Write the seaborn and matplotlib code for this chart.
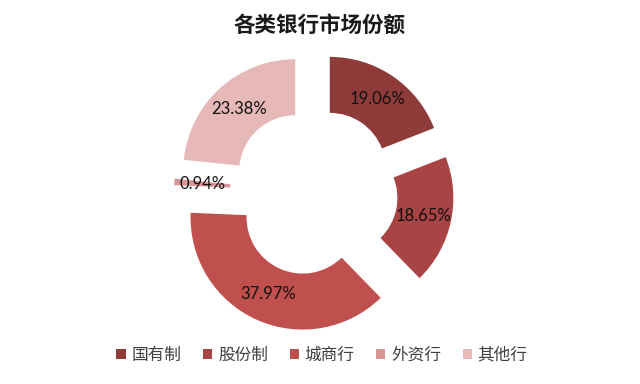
import matplotlib
matplotlib.use("Agg")
import matplotlib.pyplot as plt
import seaborn as sns

sns.set_theme(style="white")
plt.rcParams["font.family"] = ["Lato", "Noto Sans CJK SC", "DejaVu Sans"]

# data
bank_types = ["国有制", "股份制", "城商行", "外资行", "其他行"]
shares = [19.06, 18.65, 37.97, 0.94, 23.38]
colors = sns.color_palette(["#8E3B3A", "#A84443", "#C0504D", "#D99694", "#E6B9B8"])

fig = plt.figure(figsize=(6.4, 3.84), dpi=100)
ax = fig.add_axes([146 / 640, 24 / 384, 336 / 640, 336 / 384])

wedges, texts, autotexts = ax.pie(
    shares,
    colors=colors,
    startangle=90,
    counterclock=False,
    explode=[0.25] * len(shares),
    autopct="%.2f%%",
    pctdistance=0.75,
    wedgeprops=dict(width=0.5, edgecolor="none"),
    textprops=dict(fontsize=12, color="#111111"),
)
ax.set_xlim(-1.5, 1.5)
ax.set_ylim(-1.5, 1.5)
ax.set_aspect("equal")
ax.axis("off")

fig.suptitle("各类银行市场份额", x=319 / 640, y=1 - 26 / 384, va="center",
             fontsize=15.5, fontweight="bold", color="#1a1a1a",
             family=["Noto Sans CJK SC", "DejaVu Sans"])

leg = fig.legend(
    wedges, bank_types,
    loc="center", bbox_to_anchor=(322 / 640, 1 - 355 / 384),
    ncol=5, frameon=False, handlelength=0.55, handleheight=0.55,
    handletextpad=0.35, columnspacing=1.3,
    prop=dict(family=["Noto Sans CJK SC", "DejaVu Sans"], size=12),
)
for t in leg.get_texts():
    t.set_color("#404040")

plt.savefig("out.png", dpi=100, facecolor="white")
